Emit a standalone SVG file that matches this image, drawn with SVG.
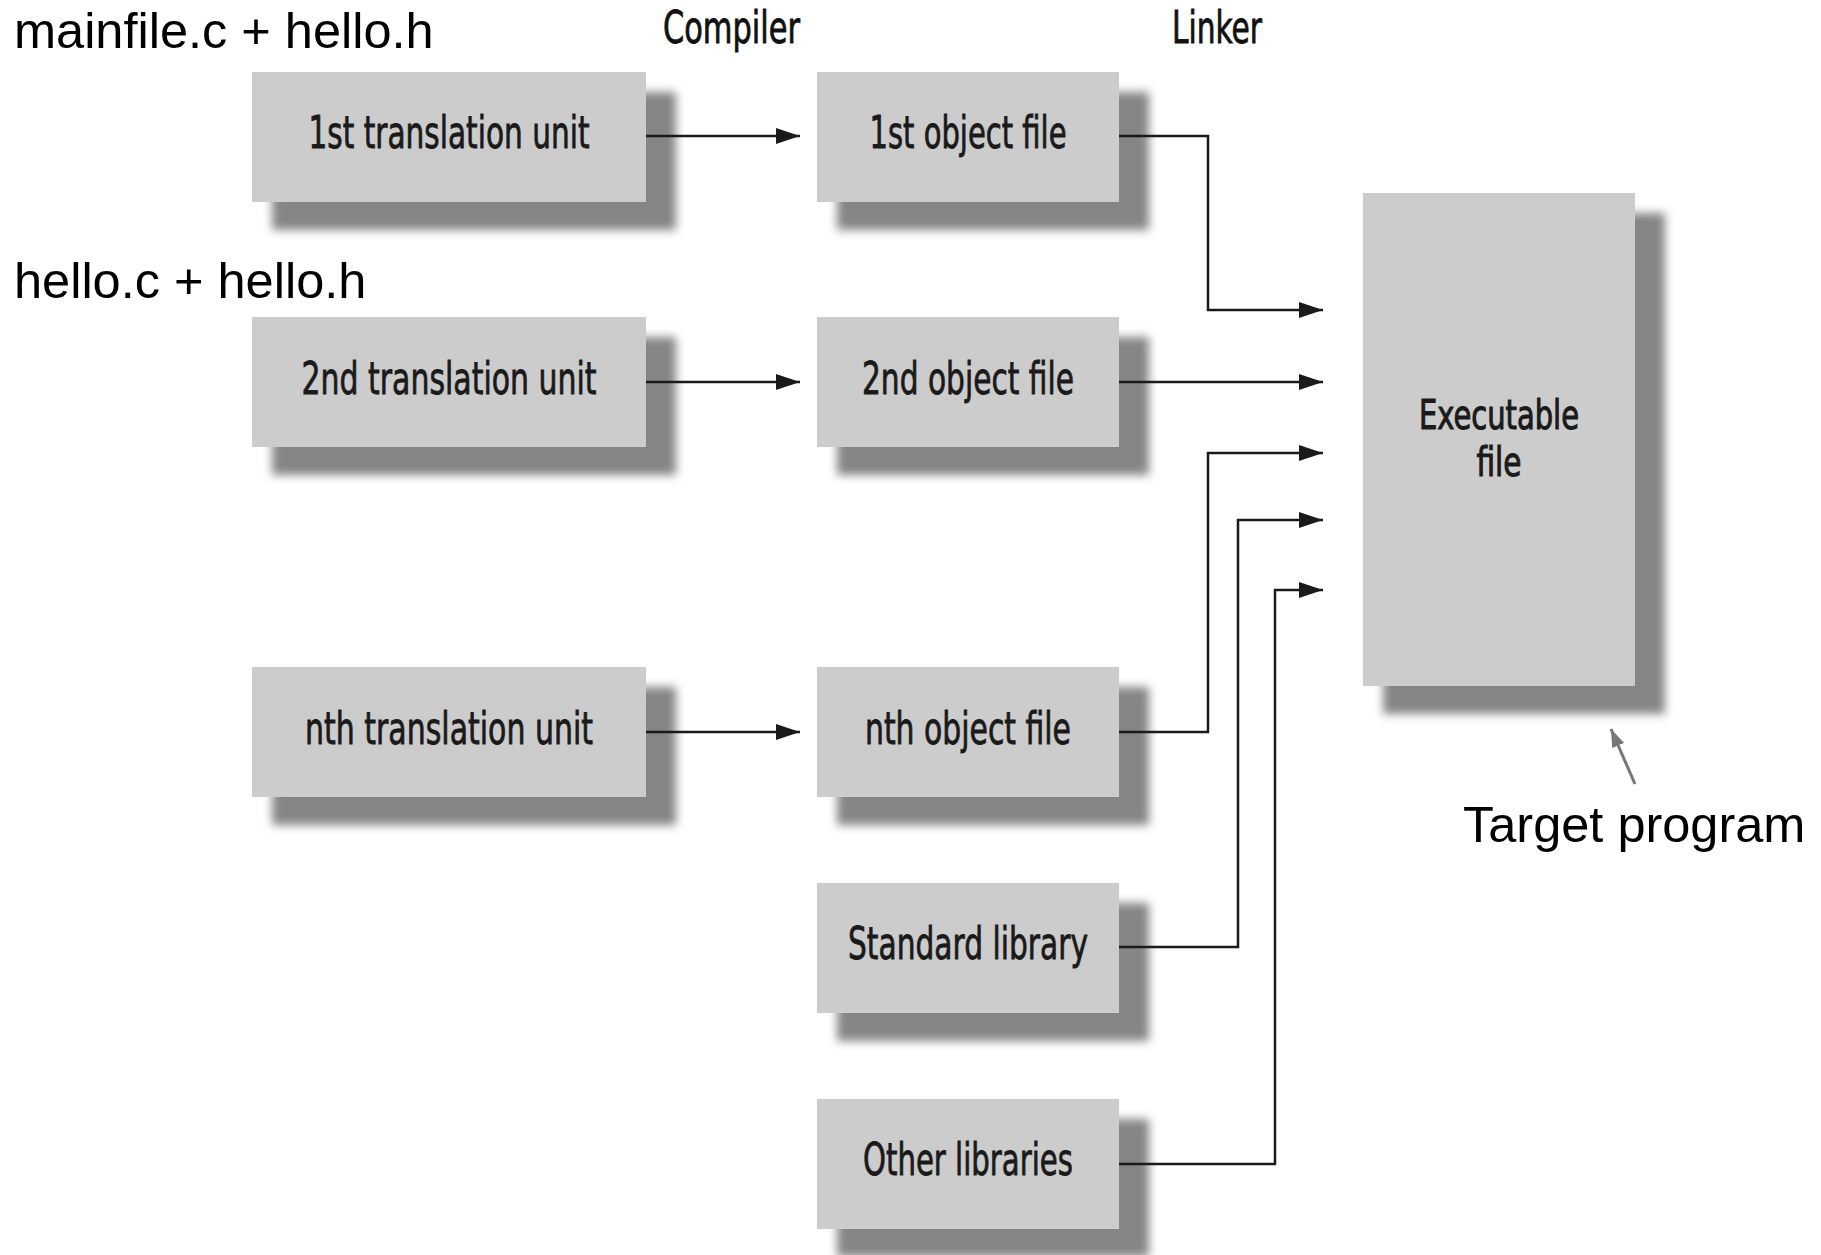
<svg xmlns="http://www.w3.org/2000/svg" width="1821" height="1255" viewBox="0 0 1821 1255">
<style>
.box{fill:#cccccc}
.sh{fill:#858585;filter:url(#blur)}
.lbl{font-family:"Liberation Sans Narrow","DejaVu Sans Condensed","Liberation Sans",sans-serif;font-size:45px;fill:#1a1a1a;stroke:#1a1a1a;stroke-width:0.8;text-anchor:middle}
.exl{font-size:40px;stroke-width:1}
.hdr{font-family:"Liberation Sans Narrow","DejaVu Sans Condensed","Liberation Sans",sans-serif;font-size:45px;fill:#111;stroke:#111;stroke-width:0.8;text-anchor:start}
.note{font-family:"Liberation Sans",Arial,sans-serif;font-size:50.5px;fill:#000}
.con{fill:none;stroke:#1a1a1a;stroke-width:2.5}
</style>
<defs>
<filter id="blur" x="-20%" y="-30%" width="140%" height="160%"><feGaussianBlur stdDeviation="5"/></filter>
<marker id="ah" viewBox="0 0 10 10" refX="10" refY="5" markerWidth="24" markerHeight="16" markerUnits="userSpaceOnUse" orient="auto" preserveAspectRatio="none"><path d="M0,0 L10,5 L0,10 z" fill="#1a1a1a"/></marker>
<marker id="ahg" viewBox="0 0 10 10" refX="10" refY="5" markerWidth="18" markerHeight="13" markerUnits="userSpaceOnUse" orient="auto" preserveAspectRatio="none"><path d="M0,0 L10,5 L0,10 z" fill="#777"/></marker>
</defs>

<g id="annotations">
<text class="note" x="14" y="48">mainfile.c + hello.h</text>
<text class="note" x="14" y="298">hello.c + hello.h</text>
<text class="hdr" x="663" y="43" textLength="137" lengthAdjust="spacingAndGlyphs">Compiler</text>
<text class="hdr" x="1172" y="43" textLength="90" lengthAdjust="spacingAndGlyphs">Linker</text>
<text class="note" x="1463" y="842">Target program</text>
<path d="M1635,784 L1611,729" fill="none" stroke="#777" stroke-width="3" marker-end="url(#ahg)"/>
</g>

<g id="tu1">
<rect class="sh" x="272" y="92" width="404" height="138"/>
<rect class="box" x="252" y="72" width="394" height="130"/>
<text class="lbl" x="449" y="148" textLength="281" lengthAdjust="spacingAndGlyphs">1st translation unit</text>
</g>
<g id="tu2">
<rect class="sh" x="272" y="337" width="404" height="138"/>
<rect class="box" x="252" y="317" width="394" height="130"/>
<text class="lbl" x="449" y="394" textLength="295" lengthAdjust="spacingAndGlyphs">2nd translation unit</text>
</g>
<g id="tun">
<rect class="sh" x="272" y="687" width="404" height="138"/>
<rect class="box" x="252" y="667" width="394" height="130"/>
<text class="lbl" x="449" y="744" textLength="288" lengthAdjust="spacingAndGlyphs">nth translation unit</text>
</g>

<g id="obj1">
<rect class="sh" x="837" y="92" width="312" height="138"/>
<rect class="box" x="817" y="72" width="302" height="130"/>
<text class="lbl" x="968" y="148" textLength="197" lengthAdjust="spacingAndGlyphs">1st object file</text>
</g>
<g id="obj2">
<rect class="sh" x="837" y="337" width="312" height="138"/>
<rect class="box" x="817" y="317" width="302" height="130"/>
<text class="lbl" x="968" y="394" textLength="212" lengthAdjust="spacingAndGlyphs">2nd object file</text>
</g>
<g id="objn">
<rect class="sh" x="837" y="687" width="312" height="138"/>
<rect class="box" x="817" y="667" width="302" height="130"/>
<text class="lbl" x="968" y="744" textLength="206" lengthAdjust="spacingAndGlyphs">nth object file</text>
</g>
<g id="stdlib">
<rect class="sh" x="837" y="903" width="312" height="138"/>
<rect class="box" x="817" y="883" width="302" height="130"/>
<text class="lbl" x="968" y="959" textLength="240" lengthAdjust="spacingAndGlyphs">Standard library</text>
</g>
<g id="otherlib">
<rect class="sh" x="837" y="1119" width="312" height="138"/>
<rect class="box" x="817" y="1099" width="302" height="130"/>
<text class="lbl" x="968" y="1175" textLength="210" lengthAdjust="spacingAndGlyphs">Other libraries</text>
</g>

<g id="exe">
<rect class="sh" x="1383" y="213" width="282" height="501"/>
<rect class="box" x="1363" y="193" width="272" height="493"/>
<text class="lbl exl" x="1499" y="429" textLength="160" lengthAdjust="spacingAndGlyphs">Executable</text>
<text class="lbl exl" x="1499" y="476" textLength="45" lengthAdjust="spacingAndGlyphs">file</text>
</g>

<g id="connectors">
<path class="con" d="M646,136 H800" marker-end="url(#ah)"/>
<path class="con" d="M646,382 H800" marker-end="url(#ah)"/>
<path class="con" d="M646,732 H800" marker-end="url(#ah)"/>
<path class="con" d="M1119,136 H1208 V310 H1323" marker-end="url(#ah)"/>
<path class="con" d="M1119,382 H1323" marker-end="url(#ah)"/>
<path class="con" d="M1119,732 H1208 V453 H1323" marker-end="url(#ah)"/>
<path class="con" d="M1119,947 H1238 V520 H1323" marker-end="url(#ah)"/>
<path class="con" d="M1119,1164 H1275 V590 H1323" marker-end="url(#ah)"/>
</g>
</svg>
